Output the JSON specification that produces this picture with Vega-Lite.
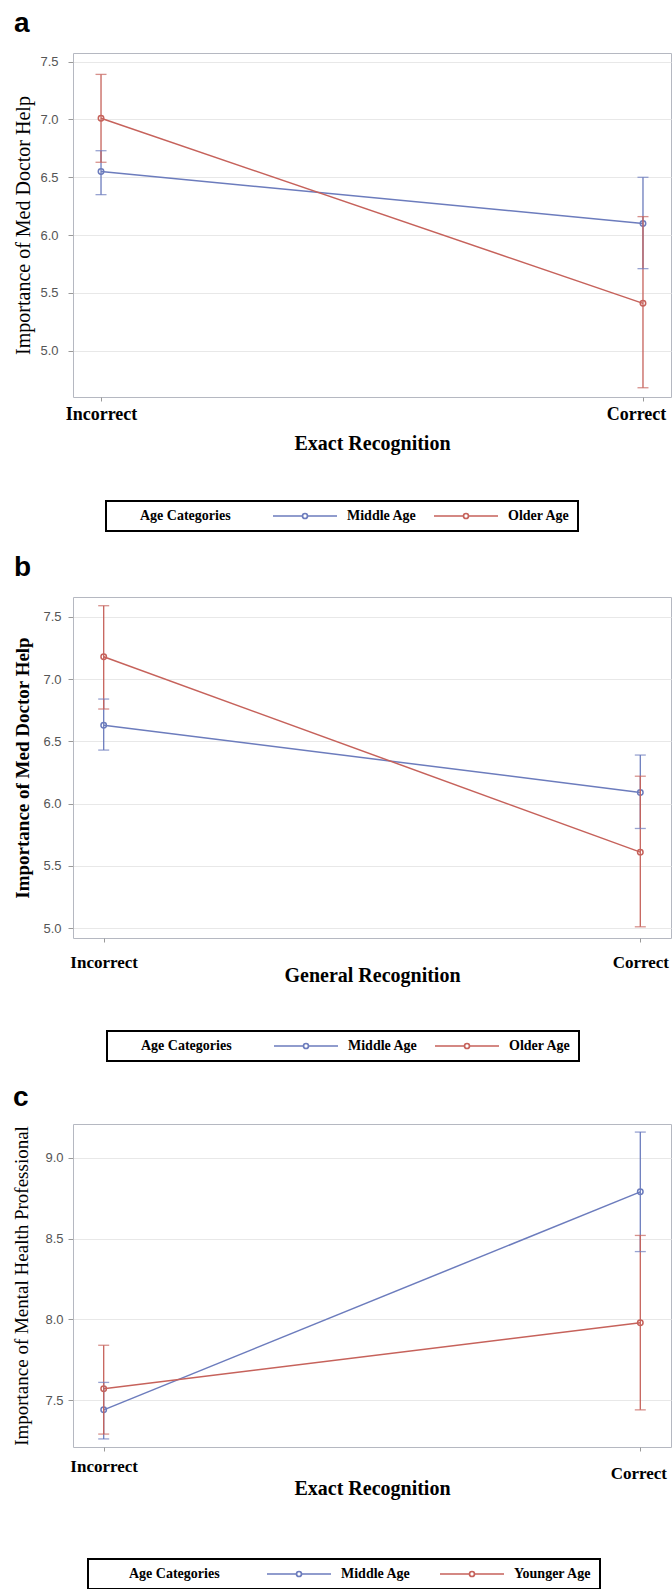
{
  "$schema": "https://vega.github.io/schema/vega-lite/v6.json",
  "padding": {"left": 12, "top": 9, "right": 2, "bottom": 0},
  "spacing": 20,
  "config": {
    "view": {"stroke": "#b5b8c1", "strokeWidth": 1},
    "axis": {"domain": false, "tickColor": "#9a9a9a", "grid": false},
    "axisY": {"grid": true, "gridColor": "#e8e8e8", "labelFont": "Liberation Sans", "labelFontSize": 13, "labelColor": "#555555", "tickSize": 5, "titleColor": "black", "titleFont": "Liberation Serif"},
    "axisX": {"labelAngle": 0, "labelFont": "Liberation Serif", "labelFontWeight": "bold", "labelColor": "black", "titleFont": "Liberation Serif", "titleFontWeight": "bold", "titleColor": "black", "tickSize": 4},
    "title": {"anchor": "start", "frame": "bounds", "font": "Liberation Sans", "fontSize": 28, "fontWeight": "bold", "color": "black"},
    "legend": {"orient": "none", "direction": "horizontal", "titleOrient": "left", "titleAnchor": "middle", "titleBaseline": "middle", "titleFont": "Liberation Serif", "titleFontWeight": "bold", "titleColor": "black", "titleFontSize": 14, "labelFont": "Liberation Serif", "labelFontWeight": "bold", "labelColor": "black", "labelFontSize": 14, "strokeColor": "black", "strokeWidth": 2, "padding": 8, "symbolType": "M-6.4,0L-0.52,0M0.52,0L6.4,0M0.52,0A0.52,0.52,0,1,1,-0.52,0A0.52,0.52,0,1,1,0.52,0M0.48,0A0.48,0.48,0,1,0,-0.48,0A0.48,0.48,0,1,0,0.48,0", "symbolSize": 100, "symbolStrokeWidth": 1.5, "symbolFillColor": "white", "symbolOpacity": 1, "symbolOffset": 27}
  },
  "datasets": {
    "a": [
      {"age": "Middle Age", "rec": "Incorrect", "mean": 6.55, "lo": 6.35, "hi": 6.73},
      {"age": "Older Age", "rec": "Incorrect", "mean": 7.01, "lo": 6.63, "hi": 7.39},
      {"age": "Middle Age", "rec": "Correct", "mean": 6.10, "lo": 5.71, "hi": 6.50},
      {"age": "Older Age", "rec": "Correct", "mean": 5.41, "lo": 4.68, "hi": 6.16}
    ],
    "b": [
      {"age": "Middle Age", "rec": "Incorrect", "mean": 6.63, "lo": 6.43, "hi": 6.84},
      {"age": "Older Age", "rec": "Incorrect", "mean": 7.18, "lo": 6.76, "hi": 7.59},
      {"age": "Middle Age", "rec": "Correct", "mean": 6.09, "lo": 5.80, "hi": 6.39},
      {"age": "Older Age", "rec": "Correct", "mean": 5.61, "lo": 5.01, "hi": 6.22}
    ],
    "c": [
      {"age": "Middle Age", "rec": "Incorrect", "mean": 7.44, "lo": 7.26, "hi": 7.61},
      {"age": "Younger Age", "rec": "Incorrect", "mean": 7.57, "lo": 7.29, "hi": 7.84},
      {"age": "Middle Age", "rec": "Correct", "mean": 8.79, "lo": 8.42, "hi": 9.16},
      {"age": "Younger Age", "rec": "Correct", "mean": 7.98, "lo": 7.44, "hi": 8.52}
    ]
  },
  "resolve": {"scale": {"color": "independent", "x": "independent", "y": "independent"}, "legend": {"color": "independent"}},
  "vconcat": [
    {
      "title": {"text": "a", "offset": 15},
      "width": 598, "height": 344,
      "data": {"name": "a"},
      "encoding": {
        "x": {"field": "rec", "type": "ordinal", "sort": ["Incorrect", "Correct"], "scale": {"type": "point", "padding": 0.0517},
          "axis": {"title": "Exact Recognition", "labelFontSize": 18, "labelPadding": 4, "titleFontSize": 20, "titlePadding": 10,
            "labelOffset": {"condition": {"test": "datum.value === 'Correct'", "value": -7}, "value": 0}}},
        "color": {"field": "age", "type": "nominal", "scale": {"domain": ["Middle Age", "Older Age"], "range": ["#6c7cbd", "#c6625b"]},
          "legend": {"title": "Age Categories", "legendX": 33, "legendY": 448, "titlePadding": 66, "labelOffset": 35, "columnPadding": 14, "symbolFillColor": "white",
            "encode": {"title": {"update": {"dx": {"value": 26}}}, "symbols": {"update": {"fill": {"value": "white"}, "fillOpacity": {"value": 1}}}}}}
      },
      "layer": [
        {"mark": {"type": "point", "shape": "circle", "filled": false, "size": 30, "strokeWidth": 1.5, "opacity": 1},
          "encoding": {"y": {"field": "mean", "type": "quantitative", "scale": {"domain": [4.60, 7.575], "nice": false, "zero": false},
            "axis": {"title": "Importance of Med Doctor Help", "titleFontSize": 20, "titleFontWeight": "normal", "titlePadding": 6, "labelPadding": 10, "values": [5, 5.5, 6, 6.5, 7, 7.5], "format": ".1f"}}}},
        {"mark": {"type": "line", "strokeWidth": 1.5},
          "encoding": {"y": {"field": "mean", "type": "quantitative", "scale": {"domain": [4.60, 7.575], "nice": false, "zero": false}, "axis": {"title": "Importance of Med Doctor Help"}}}},
        {"mark": {"type": "rule", "strokeWidth": 1.3},
          "encoding": {"color": {"field": "age", "type": "nominal", "legend": null},
            "y": {"field": "lo", "type": "quantitative", "scale": {"domain": [4.60, 7.575], "nice": false, "zero": false}, "axis": {"title": "Importance of Med Doctor Help"}},
            "y2": {"field": "hi"}}},
        {"mark": {"type": "tick", "size": 11, "thickness": 1.3},
          "encoding": {"color": {"field": "age", "type": "nominal", "legend": null},
            "y": {"field": "lo", "type": "quantitative", "scale": {"domain": [4.60, 7.575], "nice": false, "zero": false}, "axis": {"title": "Importance of Med Doctor Help"}}}},
        {"mark": {"type": "tick", "size": 11, "thickness": 1.3},
          "encoding": {"color": {"field": "age", "type": "nominal", "legend": null},
            "y": {"field": "hi", "type": "quantitative", "scale": {"domain": [4.60, 7.575], "nice": false, "zero": false}, "axis": {"title": "Importance of Med Doctor Help"}}}}
      ]
    },
    {
      "title": {"text": "b", "offset": 15},
      "width": 598, "height": 341,
      "data": {"name": "b"},
      "encoding": {
        "x": {"field": "rec", "type": "ordinal", "sort": ["Incorrect", "Correct"], "scale": {"type": "point", "padding": 0.0572},
          "axis": {"title": "General Recognition", "labelFontSize": 17, "labelPadding": 12, "titleFontSize": 20, "titlePadding": -5}},
        "color": {"field": "age", "type": "nominal", "scale": {"domain": ["Middle Age", "Older Age"], "range": ["#6c7cbd", "#c6625b"]},
          "legend": {"title": "Age Categories", "legendX": 34, "legendY": 434, "titlePadding": 66, "labelOffset": 35, "columnPadding": 14, "symbolFillColor": "white",
            "encode": {"title": {"update": {"dx": {"value": 26}}}, "symbols": {"update": {"fill": {"value": "white"}, "fillOpacity": {"value": 1}}}}}}
      },
      "layer": [
        {"mark": {"type": "point", "shape": "circle", "filled": false, "size": 30, "strokeWidth": 1.5, "opacity": 1},
          "encoding": {"y": {"field": "mean", "type": "quantitative", "scale": {"domain": [4.92, 7.66], "nice": false, "zero": false},
            "axis": {"title": "Importance of Med Doctor Help", "titleFontSize": 19, "titleFontWeight": "bold", "titlePadding": 10, "labelPadding": 7, "values": [5, 5.5, 6, 6.5, 7, 7.5], "format": ".1f"}}}},
        {"mark": {"type": "line", "strokeWidth": 1.5},
          "encoding": {"y": {"field": "mean", "type": "quantitative", "scale": {"domain": [4.92, 7.66], "nice": false, "zero": false}, "axis": {"title": "Importance of Med Doctor Help"}}}},
        {"mark": {"type": "rule", "strokeWidth": 1.3},
          "encoding": {"color": {"field": "age", "type": "nominal", "legend": null},
            "y": {"field": "lo", "type": "quantitative", "scale": {"domain": [4.92, 7.66], "nice": false, "zero": false}, "axis": {"title": "Importance of Med Doctor Help"}},
            "y2": {"field": "hi"}}},
        {"mark": {"type": "tick", "size": 11, "thickness": 1.3},
          "encoding": {"color": {"field": "age", "type": "nominal", "legend": null},
            "y": {"field": "lo", "type": "quantitative", "scale": {"domain": [4.92, 7.66], "nice": false, "zero": false}, "axis": {"title": "Importance of Med Doctor Help"}}}},
        {"mark": {"type": "tick", "size": 11, "thickness": 1.3},
          "encoding": {"color": {"field": "age", "type": "nominal", "legend": null},
            "y": {"field": "hi", "type": "quantitative", "scale": {"domain": [4.92, 7.66], "nice": false, "zero": false}, "axis": {"title": "Importance of Med Doctor Help"}}}}
      ]
    },
    {
      "title": {"text": "c", "offset": 12},
      "width": 598, "height": 323,
      "data": {"name": "c"},
      "encoding": {
        "x": {"field": "rec", "type": "ordinal", "sort": ["Incorrect", "Correct"], "scale": {"type": "point", "padding": 0.0572},
          "axis": {"title": "Exact Recognition", "labelFontSize": 17, "titleFontSize": 20, "titlePadding": -3,
            "labelPadding": {"condition": {"test": "datum.value === 'Correct'", "value": 14}, "value": 7},
            "labelOffset": {"condition": {"test": "datum.value === 'Correct'", "value": -2}, "value": 0}}},
        "color": {"field": "age", "type": "nominal", "scale": {"domain": ["Middle Age", "Younger Age"], "range": ["#6c7cbd", "#c6625b"]},
          "legend": {"title": "Age Categories", "legendX": 15, "legendY": 435, "titlePadding": 78, "labelOffset": 35, "columnPadding": 26, "symbolFillColor": "white",
            "encode": {"title": {"update": {"dx": {"value": 33}}}, "symbols": {"update": {"fill": {"value": "white"}, "fillOpacity": {"value": 1}}}}}}
      },
      "layer": [
        {"mark": {"type": "point", "shape": "circle", "filled": false, "size": 30, "strokeWidth": 1.5, "opacity": 1},
          "encoding": {"y": {"field": "mean", "type": "quantitative", "scale": {"domain": [7.21, 9.21], "nice": false, "zero": false},
            "axis": {"title": "Importance of Mental Health Professional", "titleFontSize": 19, "titleFontWeight": "normal", "titlePadding": 13, "labelPadding": 5, "values": [7.5, 8, 8.5, 9], "format": ".1f"}}}},
        {"mark": {"type": "line", "strokeWidth": 1.5},
          "encoding": {"y": {"field": "mean", "type": "quantitative", "scale": {"domain": [7.21, 9.21], "nice": false, "zero": false}, "axis": {"title": "Importance of Mental Health Professional"}}}},
        {"mark": {"type": "rule", "strokeWidth": 1.3},
          "encoding": {"color": {"field": "age", "type": "nominal", "legend": null},
            "y": {"field": "lo", "type": "quantitative", "scale": {"domain": [7.21, 9.21], "nice": false, "zero": false}, "axis": {"title": "Importance of Mental Health Professional"}},
            "y2": {"field": "hi"}}},
        {"mark": {"type": "tick", "size": 11, "thickness": 1.3},
          "encoding": {"color": {"field": "age", "type": "nominal", "legend": null},
            "y": {"field": "lo", "type": "quantitative", "scale": {"domain": [7.21, 9.21], "nice": false, "zero": false}, "axis": {"title": "Importance of Mental Health Professional"}}}},
        {"mark": {"type": "tick", "size": 11, "thickness": 1.3},
          "encoding": {"color": {"field": "age", "type": "nominal", "legend": null},
            "y": {"field": "hi", "type": "quantitative", "scale": {"domain": [7.21, 9.21], "nice": false, "zero": false}, "axis": {"title": "Importance of Mental Health Professional"}}}}
      ]
    }
  ]
}
